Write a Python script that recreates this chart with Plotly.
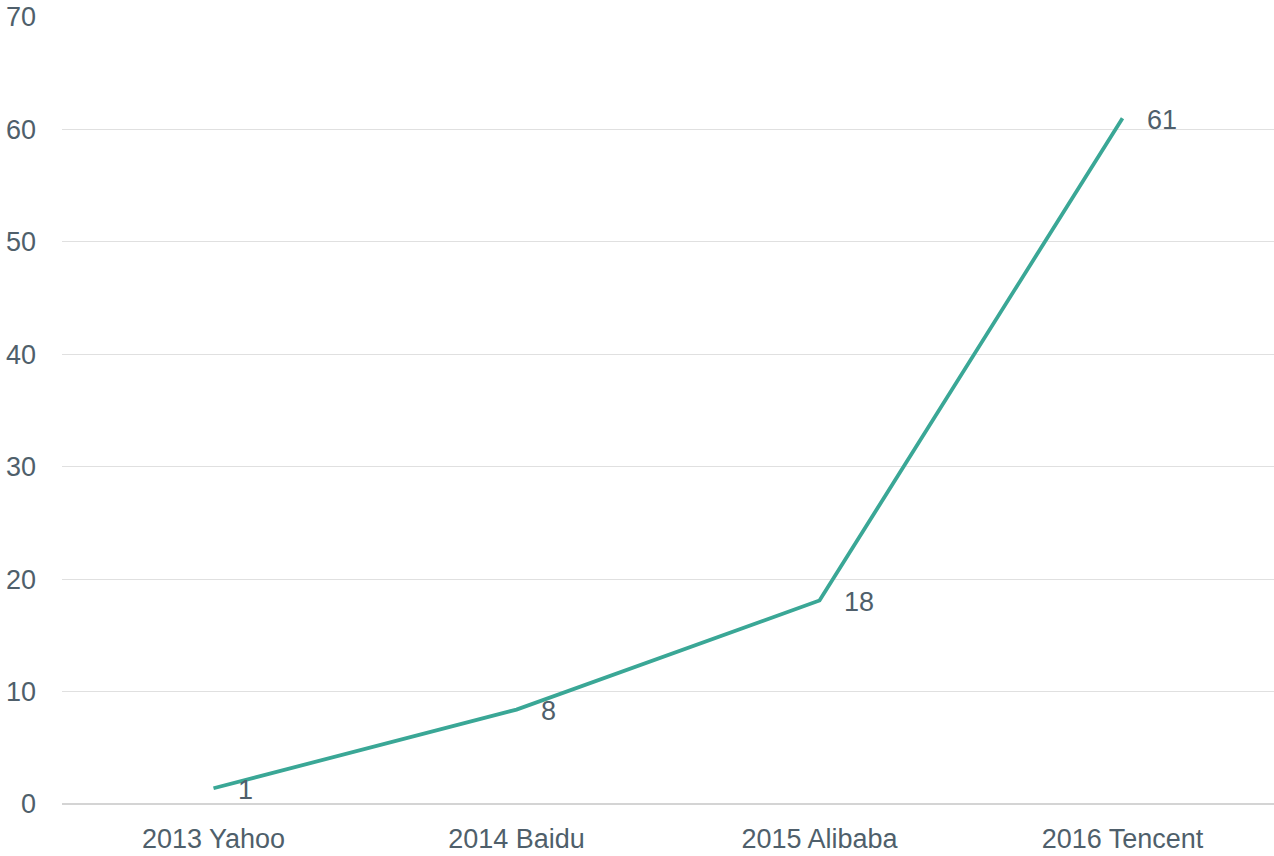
import plotly.graph_objects as go

categories = ["2013 Yahoo", "2014 Baidu", "2015 Alibaba", "2016 Tencent"]
values = [1.4, 8.4, 18.1, 61.0]
labels = ["1", "8", "18", "61"]
y_ticks = [0, 10, 20, 30, 40, 50, 60, 70]

TEXT = "#4f5f6b"
FONT = "Liberation Sans, Arial, sans-serif"
FS = 27

fig = go.Figure()
fig.add_trace(go.Scatter(
    x=categories, y=values,
    mode="lines",
    line=dict(color="#3aa796", width=3.8),
    cliponaxis=False,
    hoverinfo="x+y",
))

for c, v, t in zip(categories, values, labels):
    fig.add_annotation(
        x=c, y=v, text=t, showarrow=False,
        xanchor="left", yanchor="middle",
        xshift=22, yshift=-1.5,
        font=dict(family=FONT, size=FS, color=TEXT),
    )

fig.update_layout(
    width=1274, height=856,
    margin=dict(l=62, r=0, t=17, b=52),
    paper_bgcolor="white", plot_bgcolor="white",
    showlegend=False,
    font=dict(family=FONT, size=FS, color=TEXT),
)
fig.update_xaxes(
    type="category", range=[-0.5, 3.5], automargin=False,
    showgrid=False, zeroline=False, showline=False,
    ticks="", ticklabelstandoff=16,
    tickfont=dict(family=FONT, size=FS, color=TEXT),
)
fig.update_yaxes(
    range=[0, 70], tickvals=y_ticks, automargin=False,
    showgrid=True, gridcolor="#e0e0e0", gridwidth=1,
    zeroline=True, zerolinecolor="#d4d4d4", zerolinewidth=1.5,
    showline=False, ticks="", ticklabelstandoff=25,
    tickfont=dict(family=FONT, size=FS, color=TEXT),
)

fig.write_html(
    "out.html",
    config={"displayModeBar": False},
    post_script="document.body.style.margin='0';document.body.style.overflow='hidden';",
)
